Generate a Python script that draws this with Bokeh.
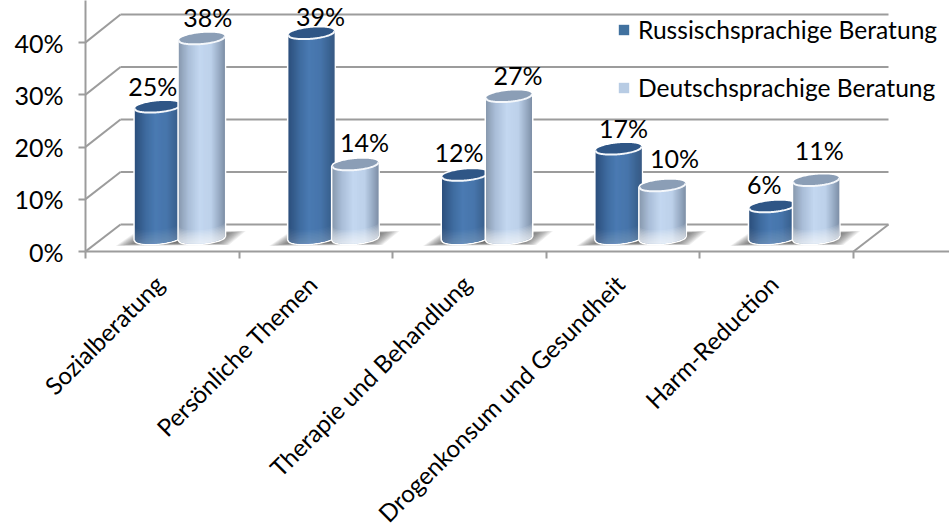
import math

import numpy as np
from bokeh.core.properties import value
from bokeh.embed import file_html
from bokeh.models import (ColumnDataSource, FixedTicker, Legend, LegendItem,
                          LinearAxis, PrintfTickFormatter, Range1d)
from bokeh.plotting import figure
from bokeh.resources import INLINE

# Chart values
categories = ["Sozialberatung", "Persönliche Themen", "Therapie und Behandlung",
              "Drogenkonsum und Gesundheit", "Harm-Reduction"]
russian = [25, 39, 12, 17, 6]
german = [38, 14, 27, 10, 11]
series_names = ["Russischsprachige Beratung", "Deutschsprachige Beratung"]
y_ticks = [0, 10, 20, 30, 40]

# Layout of the pseudo-3D box
FRAME_W, FRAME_H = 864, 251
PX_X = 1 / 153.6          # category units per pixel
PX_Y = 1 / 5.225          # percent per pixel on the front axis
DEPTH_X = 35 * PX_X
DEPTH_Y = 27 * PX_Y
DEEP_SCALE = 5.25 / 5.225  # the back of the box is drawn a touch taller
HALF_W = 23 * PX_X
BAR_SEP = 22 * PX_X
RIM_Y = 5.5 * PX_Y
TILT_Y = 2 * PX_Y

FONT = "Lato"
GRID = "#9c9c9c"

DARK_STOPS = [(-1, "#2c4f7c"), (-0.5, "#3f6ca0"), (-0.1, "#4a7ab2"),
              (0.4, "#4775ab"), (0.8, "#3a6290"), (1, "#3a5a84")]
LIGHT_STOPS = [(-1, "#8899ae"), (-0.6, "#a9bdd7"), (-0.1, "#c3d7f0"),
               (0.4, "#bdd1ea"), (0.8, "#93a6bf"), (1, "#7e8fa6")]
TOP_COLORS = ["#2f5686", "#8b9eb6"]
SWATCH_COLORS = ["#41719f", "#b8cce4"]
GLOW_ALPHA = [0.025, 0.10]


def shade(stops, u):
    """Colour on a cylinder's horizontal gradient at u in [-1, 1]."""
    for (u0, c0), (u1, c1) in zip(stops, stops[1:]):
        if u <= u1:
            t = (u - u0) / (u1 - u0)
            a = [int(c0[i:i + 2], 16) for i in (1, 3, 5)]
            b = [int(c1[i:i + 2], 16) for i in (1, 3, 5)]
            return "#%02x%02x%02x" % tuple(round(p + (q - p) * t) for p, q in zip(a, b))
    return stops[-1][1]


def front(u):
    return -RIM_Y * np.sqrt(np.maximum(1 - u * u, 0)) + TILT_Y * u


def back(u):
    return RIM_Y * np.sqrt(np.maximum(1 - u * u, 0)) + TILT_Y * u


p = figure(width=949, height=529, frame_width=FRAME_W, frame_height=FRAME_H,
           x_range=Range1d(0, FRAME_W * PX_X), y_range=Range1d(0, FRAME_H * PX_Y),
           output_backend="svg", toolbar_location=None, x_axis_type=None, y_axis_type=None,
           min_border_left=85, min_border_right=0, min_border_top=0, min_border_bottom=278,
           outline_line_color=None, background_fill_color="white", border_fill_color="white")
p.grid.visible = False

n = len(categories)
wall_y = [t * DEEP_SCALE + DEPTH_Y for t in y_ticks]

# Back wall lines, left side wall diagonals and the floor's right edge
p.segment(x0=[DEPTH_X] * len(y_ticks), x1=[n + DEPTH_X] * len(y_ticks),
          y0=wall_y, y1=wall_y, line_color=GRID, line_width=2)
p.segment(x0=[0] * len(y_ticks), x1=[DEPTH_X] * len(y_ticks),
          y0=y_ticks, y1=wall_y, line_color=GRID, line_width=2)
p.segment(x0=[n], x1=[n + DEPTH_X], y0=[0], y1=[DEPTH_Y], line_color=GRID, line_width=2)

# Axes sit on the front edges of the box
x_axis = LinearAxis(ticker=FixedTicker(ticks=[i + 0.48 for i in range(n)],
                                       minor_ticks=list(range(n + 1))),
                    major_label_overrides={i + 0.48: c for i, c in enumerate(categories)},
                    major_label_orientation=math.pi / 4,
                    major_label_text_font=FONT, major_label_text_font_size="24.2px",
                    major_label_text_color="#000000", major_label_standoff=21,
                    major_tick_line_color=None, major_tick_in=0, major_tick_out=7,
                    minor_tick_line_color=GRID, minor_tick_line_width=2,
                    minor_tick_in=0, minor_tick_out=7,
                    axis_line_color=GRID, axis_line_width=2)
y_axis = LinearAxis(ticker=FixedTicker(ticks=y_ticks, minor_ticks=[]),
                    formatter=PrintfTickFormatter(format="%d%%"),
                    major_label_text_font=FONT, major_label_text_font_size="25px",
                    major_label_text_color="#000000", major_label_standoff=15,
                    major_tick_line_color=GRID, major_tick_line_width=2,
                    major_tick_in=0, major_tick_out=7,
                    axis_line_color=GRID, axis_line_width=2)
p.add_layout(x_axis, "below")
p.add_layout(y_axis, "left")

base = DEPTH_Y / 2
centres = [i + 0.5 + DEPTH_X / 2 for i in range(n)]

# Soft floor shadow under each pair of cylinders
shadow_outline = [(-64, 8), (-44, -6), (66, -7), (49, 7)]
sh_x, sh_y = [], []
for c in centres:
    for s in np.linspace(1.0, 0.66, 14):
        sh_x.append([c + s * dx * PX_X for dx, _ in shadow_outline])
        sh_y.append([base - s * dy * PX_Y for _, dy in shadow_outline])
p.patches(sh_x, sh_y, fill_color="#444444", fill_alpha=0.085, line_color=None)

# Cylinders: dark series first, the lighter one overlaps it
us = np.linspace(-1, 1, 47)
for k, (vals, stops) in enumerate([(russian, DARK_STOPS), (german, LIGHT_STOPS)]):
    sign = -1 if k == 0 else 1
    strip_x, strip_y, colors = [], [], []
    halo_x, halo_y, top_x, top_y, rim_x, rim_y, glow_x, glow_y = [], [], [], [], [], [], [], []
    for c, v in zip(centres, vals):
        cx = c + sign * BAR_SEP
        y_top = base + v * DEEP_SCALE
        step = 2 * HALF_W / (len(us) - 1)
        xs = cx + us * HALF_W
        for i, u in enumerate(us[:-1]):
            # each strip reaches under its right neighbour so no seam can show
            x0 = float(xs[i])
            x1 = float(xs[min(i + 2, len(us) - 1)])
            f0, f1 = float(front(us[i])), float(front(us[min(i + 2, len(us) - 1)]))
            strip_x.append([x0, x1, x1, x0])
            strip_y.append([base + f0, base + f1, y_top + f1, y_top + f0])
            colors.append(shade(stops, float(u + step / HALF_W / 2)))
        halo_x.append(list(xs) + list(xs[::-1]))
        halo_y.append(list(base + front(us)) + list(y_top + back(us[::-1])))
        top_x.append(list(xs) + list(xs[::-1]))
        top_y.append(list(y_top + front(us)) + list(y_top + back(us[::-1])))
        rim_x.append(list(xs))
        rim_y.append(list(y_top + front(us)))
        for h in np.arange(1.5, 15, 1.5):
            rise = min(h * PX_Y, v * 0.8)
            glow_x.append(list(xs) + list(xs[::-1]))
            glow_y.append(list(base + front(us)) + list(base + rise + front(us[::-1])))
    p.patches(halo_x, halo_y, fill_color="white", line_color="white", line_width=3)
    p.patches(strip_x, strip_y, fill_color=colors, line_color=None)
    p.patches(glow_x, glow_y, fill_color="white", fill_alpha=GLOW_ALPHA[k], line_color=None)
    p.patches(top_x, top_y, fill_color=TOP_COLORS[k], line_color=None)
    p.multi_line(rim_x, rim_y, line_color="#f4f7fb", line_width=2)

# Value labels, each nudged clear of its cylinder
label_offsets_x = [-5, 6, 9, 9, -6, 9, 5, 12, -8, 3]
label_offsets_y = [-21, -22, -17, -23, -23, -21, -21, -28, -23, -30]
lx, ly, lt = [], [], []
for c, r, g in zip(centres, russian, german):
    lx += [c - BAR_SEP, c + BAR_SEP]
    ly += [base + r * DEEP_SCALE, base + g * DEEP_SCALE]
    lt += [f"{r}%", f"{g}%"]
labels = ColumnDataSource(dict(x=lx, y=ly, text=lt, dx=label_offsets_x, dy=label_offsets_y))
p.text("x", "y", text="text", source=labels, x_offset="dx", y_offset="dy",
       text_align="center", text_baseline="middle", text_color="#000000",
       text_font=value(FONT), text_font_size="25px")

# Legend swatches come from empty renderers
r_ru = p.quad(left=[math.nan], right=[math.nan], bottom=[math.nan], top=[math.nan],
              fill_color=SWATCH_COLORS[0], line_color=None)
r_de = p.quad(left=[math.nan], right=[math.nan], bottom=[math.nan], top=[math.nan],
              fill_color=SWATCH_COLORS[1], line_color=None)
legend = Legend(items=[LegendItem(label=series_names[0], renderers=[r_ru]),
                       LegendItem(label=series_names[1], renderers=[r_de])],
                location=(532, 149), orientation="vertical", padding=0, margin=0,
                glyph_width=13, glyph_height=13, label_standoff=8,
                label_height=30, spacing=28, border_line_color=None,
                background_fill_alpha=0,
                label_text_font=FONT, label_text_font_size="24.6px", label_text_color="#000000")
p.add_layout(legend, "center")

open("out.html", "w").write(file_html(p, INLINE))
